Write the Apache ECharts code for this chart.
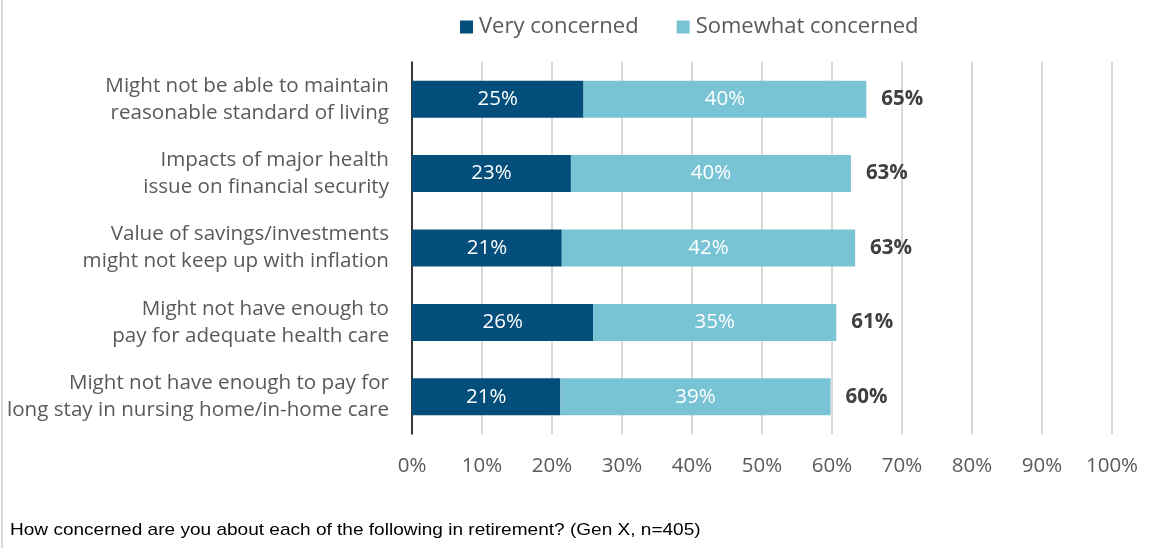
<!DOCTYPE html>
<html>
<head>
<meta charset="utf-8">
<script src="https://cdn.jsdelivr.net/npm/echarts@6/dist/echarts.min.js"></script>
<style>
html,body{margin:0;padding:0;background:#fff;}
#c{width:1153px;height:548px;}
#border{position:absolute;left:1px;top:0;width:2px;height:548px;background:#d9d9d9;}
</style>
</head>
<body>
<div id="border"></div>
<div id="c"></div>
<script>
const categories = [
  "Might not be able to maintain\nreasonable standard of living",
  "Impacts of major health\nissue on financial security",
  "Value of savings/investments\nmight not keep up with inflation",
  "Might not have enough to\npay for adequate health care",
  "Might not have enough to pay for\nlong stay in nursing home/in-home care"
];
const veryConcerned = [24.5, 22.7, 21.4, 25.9, 21.2];
const somewhatConcerned = [40.4, 40.0, 41.9, 34.7, 38.6];
const xTicks = [0, 10, 20, 30, 40, 50, 60, 70, 80, 90, 100];
const footnote = "How concerned are you about each of the following in retirement? (Gen X, n=405)";

const totals = veryConcerned.map((v, i) => v + somewhatConcerned[i]);
const font = "'Open Sans', Lato, sans-serif";

const chart = echarts.init(document.getElementById('c'));
chart.setOption({
  animation: false,
  textStyle: { fontFamily: font },
  legend: {
    data: ['Very concerned', 'Somewhat concerned'],
    top: 11,
    left: 455,
    itemWidth: 13,
    itemHeight: 13,
    itemGap: 38,
    icon: 'rect',
    textStyle: { fontSize: 22, color: '#595959', fontFamily: font, padding: [0, 0, 0, 1] }
  },
  graphic: [{
    type: 'text',
    left: 10,
    top: 522,
    scaleX: 1.12,
    style: { text: footnote, fill: '#000', font: "17px 'Liberation Sans', Arial, sans-serif" }
  }],
  grid: { left: 412, right: 41, top: 62, height: 372, containLabel: false },
  xAxis: {
    type: 'value',
    min: 0, max: 100, interval: 10,
    axisLine: { show: false },
    axisTick: { show: false },
    splitLine: { lineStyle: { color: '#d9d9d9', width: 2 } },
    axisLabel: {
      margin: 22,
      fontSize: 20.5, color: '#595959', fontFamily: font,
      formatter: v => xTicks.includes(v) ? v + '%' : ''
    }
  },
  yAxis: {
    type: 'category',
    inverse: true,
    data: categories,
    axisLine: { lineStyle: { color: '#000', width: 1.5 } },
    axisTick: { show: false },
    axisLabel: {
      margin: 23, fontSize: 20.6, lineHeight: 27, color: '#595959', fontFamily: font, align: 'right'
    }
  },
  series: [
    {
      name: 'Very concerned', type: 'bar', stack: 't', barWidth: 37,
      data: veryConcerned,
      itemStyle: { color: '#034e7b' },
      label: { show: true, position: 'inside', color: '#fff', fontSize: 20.5, fontFamily: font,
        formatter: p => Math.round(p.value) + '%' }
    },
    {
      name: 'Somewhat concerned', type: 'bar', stack: 't', barWidth: 37,
      data: somewhatConcerned,
      itemStyle: { color: '#78c3d4' },
      label: { show: true, position: 'inside', color: '#fff', fontSize: 20.5, fontFamily: font,
        formatter: p => Math.round(p.value) + '%' }
    },
    {
      name: 'Total', type: 'bar', stack: 't', barWidth: 37,
      data: totals.map(() => 0),
      itemStyle: { color: 'transparent' },
      label: { show: true, position: 'right', distance: 15, color: '#404040', fontSize: 20.5, fontWeight: 'bold', fontFamily: font,
        formatter: p => Math.round(totals[p.dataIndex]) + '%' }
    }
  ]
});
</script>
</body>
</html>
